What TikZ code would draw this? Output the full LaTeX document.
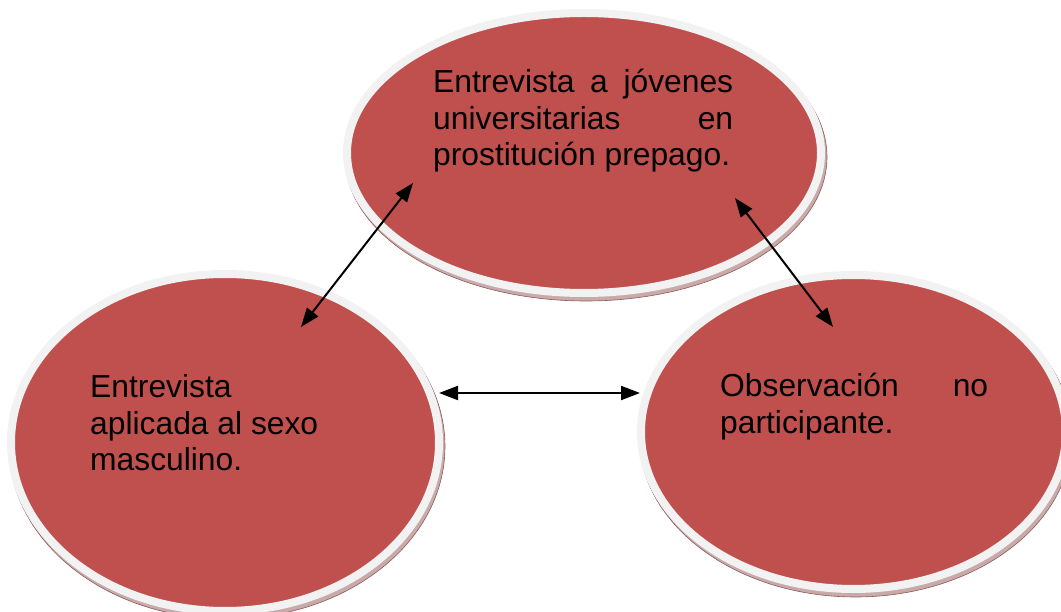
\documentclass[tikz,border=0pt]{standalone}
\usepackage{fontspec}
\setmainfont{Liberation Sans}
\usetikzlibrary{arrows.meta,shapes.geometric}
\definecolor{boxred}{HTML}{C0504D}
\definecolor{ringgray}{HTML}{F2F2F2}
\definecolor{rimfill}{HTML}{C9AAAA}
\definecolor{rimline}{HTML}{8E5A5A}
\tikzset{
  bubble/.style={ellipse, fill=boxred, draw=ringgray, line width=8pt, inner sep=0pt},
  rim/.style={fill=rimfill, draw=rimline, line width=0.6pt},
  label/.style={inner sep=0pt, anchor=base west, font=\fontsize{31.8}{36.5}\selectfont},
  conn/.style={line width=2pt, {Triangle[length=19pt,width=14pt]}-{Triangle[length=19pt,width=14pt]}}
}
\begin{document}
\begin{tikzpicture}[x=1pt,y=-1pt]
\useasboundingbox (0,0) rectangle (1061,612);
% top ellipse
\fill[rim] (586,157) ellipse [x radius=241pt, y radius=144pt];
\node[bubble, minimum width=474pt, minimum height=280pt] (top) at (584,153) {};
% left ellipse
\fill[rim] (227,446.5) ellipse [x radius=218pt, y radius=172.5pt];
\node[bubble, minimum width=428pt, minimum height=337pt] (left) at (225,442.5) {};
% right ellipse
\fill[rim] (855.5,436) ellipse [x radius=216.5pt, y radius=161pt];
\node[bubble, minimum width=425pt, minimum height=314pt] (right) at (853.5,432) {};
% texts
\node[label] (ttop) at (433,93) {\vtop{\hbox to 300pt{Entrevista\hfill a\hfill jóvenes}\hbox to 300pt{universitarias\hfill en}\hbox{prostitución prepago.}}};
\node[label] (tleft) at (90,398) {\vtop{\hbox{Entrevista}\hbox{aplicada al sexo}\hbox{masculino.}}};
\node[label] (tright) at (720,397) {\vtop{\hbox to 268pt{Observación\hfill no}\hbox{participante.}}};
% connector end points
\coordinate (a1) at (301,327);
\coordinate (a2) at (413,183);
\coordinate (b1) at (735,198);
\coordinate (b2) at (833,327);
\coordinate (c1) at (439,393);
\coordinate (c2) at (640,393);
\draw[conn] (a1) -- (a2);
\draw[conn] (b1) -- (b2);
\draw[conn] (c1) -- (c2);
\end{tikzpicture}
\end{document}
